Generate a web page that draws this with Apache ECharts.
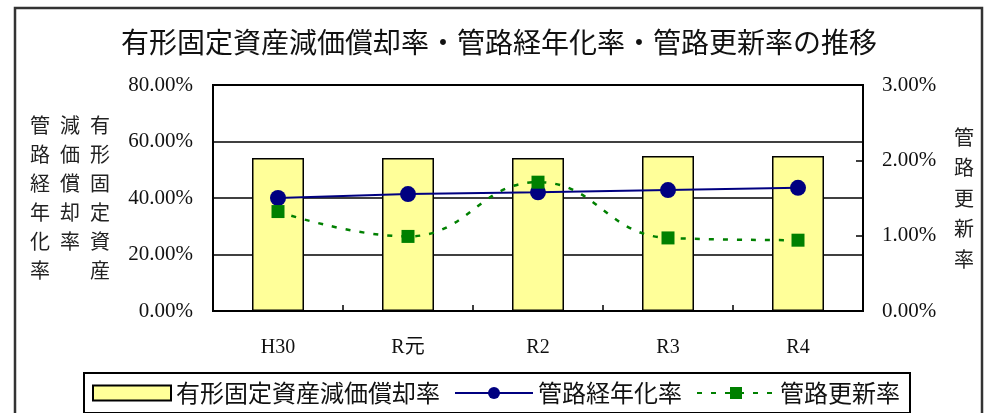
<!DOCTYPE html>
<html><head><meta charset="utf-8">
<script src="https://cdn.jsdelivr.net/npm/echarts@6/dist/echarts.min.js"></script>
<style>html,body{margin:0;padding:0;background:#fff}#c{width:985px;height:413px}</style>
</head><body><div id="c"></div>
<script>
const categories = ['H30', 'R元', 'R2', 'R3', 'R4'];
const depreciationRate = [54.2, 54.2, 54.2, 54.9, 54.9];   // 有形固定資産減価償却率 (%)
const agingRate = [40.0, 41.4, 42.0, 42.8, 43.6];          // 管路経年化率 (%)
const renewalRate = [1.32, 0.99, 1.71, 0.97, 0.94];        // 管路更新率 (%)
const leftTicks = {min: 0, max: 80, interval: 20};
const rightTicks = {min: 0, max: 3, interval: 1};

const serif = "'Liberation Serif','DejaVu Serif','Noto Sans CJK JP',serif";
const cjk = "'Noto Sans CJK JP',sans-serif";
const chart = echarts.init(document.getElementById('c'));
chart.setOption({
  animation: false,
  backgroundColor: '#fff',
  title: {
    text: '有形固定資産減価償却率・管路経年化率・管路更新率の推移',
    left: 494, textAlign: 'center', top: 23,
    textStyle: {fontFamily: cjk, fontSize: 28, fontWeight: 'normal', color: '#111'}
  },
  grid: {left: 213, right: 122, top: 85, bottom: 102, show: true, borderColor: '#000', borderWidth: 2},
  legend: {
    left: 84, top: 373,
    borderColor: '#000', borderWidth: 2, padding: [8, 10, 8, 8],
    itemWidth: 78, itemHeight: 15, itemGap: 14,
    textStyle: {fontFamily: cjk, fontSize: 24, color: '#111'},
    data: [{name: '有形固定資産減価償却率', icon: 'rect'}, '管路経年化率', '管路更新率']
  },
  xAxis: {
    type: 'category', data: categories,
    axisLine: {show: true, lineStyle: {color: '#000', width: 2}},
    axisTick: {show: true, inside: true, length: 6, lineStyle: {color: '#000', width: 1.5}},
    axisLabel: {margin: 27, fontFamily: serif, fontSize: 20, color: '#111'}
  },
  yAxis: [
    {
      type: 'value', min: leftTicks.min, max: leftTicks.max, interval: leftTicks.interval,
      axisLine: {show: false}, axisTick: {show: false},
      splitLine: {show: true, lineStyle: {color: '#000', width: 1.5}},
      axisLabel: {margin: 20, fontFamily: serif, fontSize: 21, color: '#111',
        formatter: v => v.toFixed(2) + '%'}
    },
    {
      type: 'value', min: rightTicks.min, max: rightTicks.max, interval: rightTicks.interval,
      position: 'right',
      axisLine: {show: false},
      axisTick: {show: true, inside: true, length: 7, lineStyle: {color: '#000', width: 1.5}},
      splitLine: {show: false},
      axisLabel: {margin: 19, fontFamily: serif, fontSize: 21, color: '#111',
        formatter: v => v.toFixed(2) + '%'}
    }
  ],
  series: [
    {
      name: '有形固定資産減価償却率', type: 'bar', yAxisIndex: 0, data: depreciationRate,
      barWidth: 52,
      itemStyle: {color: '#FFFF99', borderColor: '#000', borderWidth: 1.5}
    },
    {
      name: '管路経年化率', type: 'line', yAxisIndex: 0, data: agingRate,
      symbol: 'circle', symbolSize: 16,
      lineStyle: {color: '#000080', width: 2},
      itemStyle: {color: '#000080'}
    },
    {
      name: '管路更新率', type: 'line', yAxisIndex: 1, data: renewalRate,
      smooth: 0.45,
      symbol: 'rect', symbolSize: 13,
      lineStyle: {color: '#008000', width: 2.5, type: [5, 9]},
      itemStyle: {color: '#008000'}
    }
  ],
  graphic: [
    {type: 'rect', shape: {x: 15, y: 8, width: 967, height: 520}, style: {fill: 'none', stroke: '#333', lineWidth: 2.5}, z: -10, silent: true},
    {type: 'text', x: 40, y: 111, style: {text: '管\n路\n経\n年\n化\n率', font: "20px 'Noto Sans CJK JP'", lineHeight: 29, textAlign: 'center', fill: '#222'}},
    {type: 'text', x: 70, y: 111, style: {text: '減\n価\n償\n却\n率', font: "20px 'Noto Sans CJK JP'", lineHeight: 29, textAlign: 'center', fill: '#222'}},
    {type: 'text', x: 100, y: 111, style: {text: '有\n形\n固\n定\n資\n産', font: "20px 'Noto Sans CJK JP'", lineHeight: 29, textAlign: 'center', fill: '#222'}},
    {type: 'text', x: 964, y: 122, style: {text: '管\n路\n更\n新\n率', font: "20px 'Noto Sans CJK JP'", lineHeight: 30.5, textAlign: 'center', fill: '#222'}}
  ]
});
</script></body></html>
